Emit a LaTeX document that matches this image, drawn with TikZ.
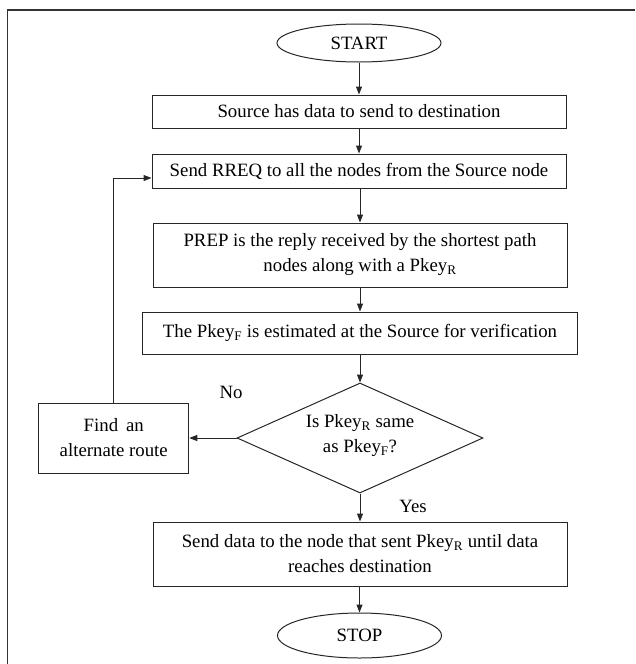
\documentclass[tikz,border=0pt]{standalone}
\usepackage{fontspec}
\setmainfont{Liberation Serif}
\usetikzlibrary{shapes.geometric,arrows.meta,calc}
\tikzset{
  base/.style={draw=black!85, line width=1pt, font=\fontsize{18.8}{25}\selectfont, align=center, inner sep=0pt},
  procbox/.style={base, rectangle},
  termnode/.style={base, ellipse},
  decnode/.style={base, diamond, aspect=2.24},
  arr/.style={draw=black!85, line width=1pt, -{Triangle[length=8pt,width=6pt]}},
  lbl/.style={font=\fontsize{18.8}{25}\selectfont, inner sep=0pt},
}
\newcommand{\sbR}{\textsubscript{R}}
\newcommand{\sbF}{\textsubscript{F}}
\begin{document}
\begin{tikzpicture}[x=1pt,y=-1pt]
\useasboundingbox (0,0) rectangle (635,664);
% outer frame
\draw[black!80, line width=1.3pt] (7.5,664) -- (7.5,10) -- (635,10);

\node[termnode, minimum width=164pt, minimum height=38pt] (start) at (359,43) {START};
\node[procbox, minimum width=414pt, minimum height=33pt] (src) at (359,111.5) {Source has data to send to destination};
\node[procbox, minimum width=414pt, minimum height=34pt] (rreq) at (359,171) {Send RREQ to all the nodes from the Source node};
\node[procbox, minimum width=414pt, minimum height=64pt] (prep) at (360,255) {PREP is the reply received by the shortest path\\nodes along with a Pkey\sbR};
\node[procbox, minimum width=435pt, minimum height=42pt] (pkf) at (360,333) {The Pkey\sbF{} is estimated at the Source for verification};
\node[decnode, minimum width=246pt, minimum height=110pt] (dec) at (360,438) {};
\node[lbl, align=center] (dectxt) at (360,436) {Is Pkey\sbR{} same\\as Pkey\sbF?};
\node[procbox, minimum width=150pt, minimum height=70pt] (find) at (113.75,438) {Find\, an\\alternate route};
\node[procbox, minimum width=414pt, minimum height=64pt] (send) at (360,554) {Send data to the node that sent Pkey\sbR{} until data\\reaches destination};
\node[termnode, minimum width=164pt, minimum height=45pt] (stop) at (359.5,635.5) {STOP};

\node[lbl] (no) at (231,392) {No};
\node[lbl] (yes) at (413,506) {Yes};

\coordinate (rin) at ($(rreq.west)+(0,7)$);

\draw[arr] (start) -- (src);
\draw[arr] (src) -- (rreq);
\draw[arr] (rreq.south -| prep.north) -- (prep.north);
\draw[arr] (prep) -- (pkf);
\draw[arr] (pkf) -- (dec.north);
\draw[arr] (dec.west) -- (find.east);
\draw[arr] (find.north) |- (rin);
\draw[arr] (dec.south) -- (send.north);
\draw[arr] (send.south -| stop.north) -- (stop.north);
\end{tikzpicture}
\end{document}
